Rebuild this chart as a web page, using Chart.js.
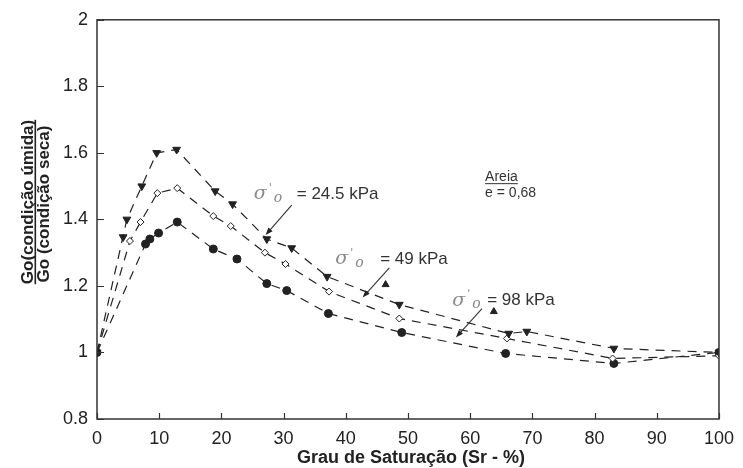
<!DOCTYPE html>
<html>
<head>
<meta charset="utf-8">
<script src="https://cdn.jsdelivr.net/npm/chart.js@4.4.0/dist/chart.umd.min.js"></script>
<style>
  html, body { margin: 0; padding: 0; background: #fff; }
  #wrap { width: 743px; height: 468px; }
</style>
</head>
<body>
<div id="wrap"><canvas id="c"></canvas></div>
<script>
// Sr (%) and Go(umida)/Go(seca)
const sr245 = [0, 4.8, 7.2, 9.6, 12.8, 19.0, 21.8, 27.3, 31.3, 37.0, 48.6, 66.2, 69.1, 83.1, 100];
const go245 = [1.0, 1.40, 1.50, 1.60, 1.61, 1.485, 1.446, 1.341, 1.314, 1.228, 1.144, 1.057, 1.063, 1.012, 1.0];

const sr49 = [0, 5.3, 7.0, 9.7, 12.9, 18.7, 21.5, 27.0, 30.3, 37.3, 48.6, 65.9, 82.9, 100];
const go49 = [1.0, 1.335, 1.392, 1.479, 1.494, 1.41, 1.38, 1.30, 1.266, 1.183, 1.102, 1.042, 0.982, 0.99];

const sr98 = [0, 7.8, 8.5, 9.9, 12.9, 18.7, 22.5, 27.3, 30.5, 37.2, 49.0, 65.7, 83.1, 100];
const go98 = [1.0, 1.326, 1.341, 1.359, 1.392, 1.311, 1.281, 1.207, 1.186, 1.117, 1.06, 0.997, 0.967, 1.0];

// loose points not on the dashed curves
const srUp = [46.4, 63.8];
const goUp = [1.204, 1.123];
const srDown = [4.2];
const goDown = [1.347];

const xTicks = [0, 10, 20, 30, 40, 50, 60, 70, 80, 90, 100];
const yTicks = [0.8, 1, 1.2, 1.4, 1.6, 1.8, 2];

// labels: [x, y] of the sigma, the arrow tail and tip, in data units
const labels = [
  { text: '= 24.5 kPa', at: [25.2, 1.476], eq: 43, tail: [31.3, 1.443], tip: [27.1, 1.353] },
  { text: '= 49 kPa', at: [38.3, 1.281], eq: 45, tail: [47.0, 1.254], tip: [42.7, 1.165] },
  { text: '= 98 kPa', at: [57.1, 1.156], eq: 35, tail: [61.9, 1.132], tip: [57.7, 1.045] }
];

const pts = (xs, ys) => xs.map((x, i) => ({ x: x, y: ys[i] }));
const ink = '#222';

const lineSet = (data, style, fill, radius, rot) => ({
  data: data,
  showLine: true,
  borderColor: ink,
  borderWidth: 1.2,
  borderDash: [9, 7],
  tension: 0,
  pointStyle: style,
  pointRotation: rot || 0,
  pointRadius: radius,
  pointBackgroundColor: fill,
  pointBorderColor: ink,
  pointBorderWidth: 1
});

const extras = {
  id: 'extras',
  afterDraw(chart) {
    const ctx = chart.ctx;
    const a = chart.chartArea;
    const xs = chart.scales.x, ys = chart.scales.y;
    ctx.save();

    // frame
    ctx.strokeStyle = '#333';
    ctx.lineWidth = 1.5;
    ctx.strokeRect(a.left, a.top, a.right - a.left, a.bottom - a.top);

    // inward tick marks
    ctx.lineWidth = 1.2;
    ctx.beginPath();
    xTicks.forEach(v => {
      const px = Math.round(xs.getPixelForValue(v)) + 0.5;
      ctx.moveTo(px, a.bottom); ctx.lineTo(px, a.bottom - 6);
    });
    yTicks.forEach(v => {
      const py = Math.round(ys.getPixelForValue(v)) + 0.5;
      ctx.moveTo(a.left, py); ctx.lineTo(a.left + 7, py);
    });
    ctx.stroke();

    // axis titles
    ctx.fillStyle = ink;
    ctx.font = 'bold 18px "Liberation Sans", Arial, sans-serif';
    ctx.textAlign = 'center';
    ctx.textBaseline = 'middle';
    ctx.fillText('Grau de Saturação (Sr - %)', 411, 458);

    ctx.font = 'bold 17px "Liberation Sans", Arial, sans-serif';
    ctx.textBaseline = 'alphabetic';
    const rot = (text, bx, cy, under) => {
      ctx.save();
      ctx.translate(bx, cy);
      ctx.rotate(-Math.PI / 2);
      ctx.fillText(text, 0, 0);
      if (under) {
        const w = ctx.measureText(text).width;
        ctx.fillRect(-w / 2, 1.5, w, 1.6);
      }
      ctx.restore();
    };
    rot('Go(condição úmida)', 33, 202, true);
    rot('Go (condição seca)', 49, 204, false);

    // sigma labels with arrows
    labels.forEach(l => {
      const x0 = xs.getPixelForValue(l.at[0]);
      const y0 = ys.getPixelForValue(l.at[1]);
      ctx.textAlign = 'left';
      ctx.textBaseline = 'middle';
      ctx.fillStyle = '#888';
      ctx.font = 'italic 19px "DejaVu Serif", serif';
      ctx.fillText('σ', x0, y0);
      ctx.font = '11px "DejaVu Serif", serif';
      ctx.fillText('\'', x0 + 15, y0 - 6);
      ctx.font = 'italic 14px "DejaVu Serif", serif';
      ctx.fillText('o', x0 + 20, y0 + 4);
      ctx.fillStyle = '#333';
      ctx.font = '17px "Liberation Sans", Arial, sans-serif';
      ctx.fillText(l.text, x0 + l.eq, y0);

      const tx = xs.getPixelForValue(l.tail[0]), ty = ys.getPixelForValue(l.tail[1]);
      const hx = xs.getPixelForValue(l.tip[0]), hy = ys.getPixelForValue(l.tip[1]);
      const ang = Math.atan2(hy - ty, hx - tx);
      ctx.strokeStyle = '#333';
      ctx.lineWidth = 1.1;
      ctx.beginPath();
      ctx.moveTo(tx, ty);
      ctx.lineTo(hx - 6 * Math.cos(ang), hy - 6 * Math.sin(ang));
      ctx.stroke();
      ctx.fillStyle = '#222';
      ctx.beginPath();
      ctx.moveTo(hx, hy);
      ctx.lineTo(hx - 8 * Math.cos(ang - 0.35), hy - 8 * Math.sin(ang - 0.35));
      ctx.lineTo(hx - 8 * Math.cos(ang + 0.35), hy - 8 * Math.sin(ang + 0.35));
      ctx.closePath();
      ctx.fill();
    });

    // material note
    const ax = xs.getPixelForValue(62.4);
    ctx.fillStyle = '#333';
    ctx.font = '14px "Liberation Sans", Arial, sans-serif';
    ctx.textAlign = 'left';
    ctx.textBaseline = 'alphabetic';
    const ay = ys.getPixelForValue(1.53) + 5;
    ctx.fillText('Areia', ax, ay);
    ctx.fillRect(ax, ay + 2, ctx.measureText('Areia').width, 1);
    ctx.fillText('e = 0,68', ax, ys.getPixelForValue(1.482) + 5);

    ctx.restore();
  }
};

new Chart(document.getElementById('c'), {
  type: 'scatter',
  data: {
    datasets: [
      lineSet(pts(sr245, go245), 'triangle', ink, 4.5, 180),
      lineSet(pts(sr49, go49), 'rectRot', '#fff', 3.5),
      lineSet(pts(sr98, go98), 'circle', ink, 4),
      {
        data: pts(srUp, goUp), showLine: false, pointStyle: 'triangle',
        pointRadius: 4, pointBackgroundColor: ink, pointBorderColor: ink
      },
      {
        data: pts(srDown, goDown), showLine: false, pointStyle: 'triangle', pointRotation: 180,
        pointRadius: 4.5, pointBackgroundColor: ink, pointBorderColor: ink
      }
    ]
  },
  options: {
    responsive: true,
    maintainAspectRatio: false,
    animation: false,
    layout: { padding: { top: 18, right: 19, left: 0, bottom: 0 } },
    plugins: { legend: { display: false }, tooltip: { enabled: false } },
    scales: {
      x: {
        type: 'linear', min: 0, max: 100,
        afterFit: s => { s.height = 49; },
        afterBuildTicks: s => { s.ticks = xTicks.map(v => ({ value: v })); },
        grid: { display: false, drawTicks: false },
        border: { display: false },
        ticks: { padding: 9, color: ink, font: { size: 18, family: '"Liberation Sans", Arial, sans-serif' }, maxRotation: 0 }
      },
      y: {
        type: 'linear', min: 0.8, max: 2,
        afterFit: s => { s.width = 97; },
        afterBuildTicks: s => { s.ticks = yTicks.map(v => ({ value: v })); },
        grid: { display: false, drawTicks: false },
        border: { display: false },
        ticks: {
          padding: 9, color: ink,
          font: { size: 18, family: '"Liberation Sans", Arial, sans-serif' },
          callback: v => String(+v.toFixed(1))
        }
      }
    }
  },
  plugins: [extras]
});
</script>
</body>
</html>
